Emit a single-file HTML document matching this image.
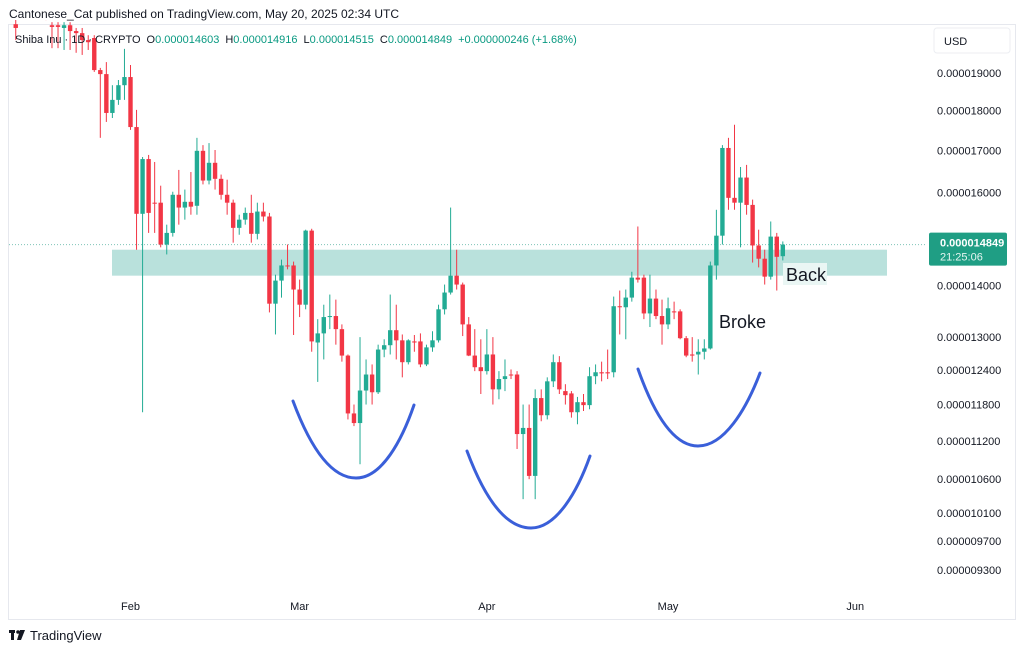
<!DOCTYPE html>
<html><head><meta charset="utf-8">
<style>
html,body{margin:0;padding:0;background:#fff;width:1024px;height:652px;overflow:hidden;font-family:"Liberation Sans",sans-serif;}
svg{display:block}
</style></head>
<body>
<svg id="chart" width="1024" height="652" viewBox="0 0 1024 652" xmlns="http://www.w3.org/2000/svg" font-family="Liberation Sans, sans-serif">
  <text x="9" y="18" font-size="12" fill="#131722">Cantonese_Cat published on TradingView.com, May 20, 2025 02:34 UTC</text>
  <rect x="8.5" y="24.5" width="1007" height="595" fill="none" stroke="#e6e8ee"/>
  <defs><clipPath id="plotclip"><rect x="9" y="20" width="916" height="580"/></clipPath></defs>
  <g id="zone"></g>
  <g id="candles" clip-path="url(#plotclip)"></g>
  <g id="overlay"></g>
  <g id="axis"></g>
  <text x="15" y="43" font-size="11" fill="#131722">Shiba Inu · 1D · CRYPTO<tspan dx="6">O</tspan><tspan fill="#089981">0.000014603</tspan><tspan dx="6">H</tspan><tspan fill="#089981">0.000014916</tspan><tspan dx="6">L</tspan><tspan fill="#089981">0.000014515</tspan><tspan dx="6">C</tspan><tspan fill="#089981">0.000014849</tspan><tspan dx="6" fill="#089981">+0.000000246 (+1.68%)</tspan></text>
  <rect x="934" y="28" width="76" height="25" rx="3" fill="#fff" stroke="#eceef2"/>
  <text x="944" y="45" font-size="11" fill="#131722">USD</text>
  <g>
    <rect x="9" y="630" width="6" height="3" fill="#131722"/><rect x="11" y="630" width="3" height="10" fill="#131722"/>
    <circle cx="18" cy="632" r="1.8" fill="#131722"/><polygon points="20,630 25,630 21,640 17,640" fill="#131722"/>
    <text x="30" y="640" font-size="13" fill="#131722">TradingView</text>
  </g>
</svg>
<script>
// price units: 1e-6 USD
const opens  = [20.38,20.8,20.9,21.0,20.9,20.8,20.35,20.35,20.27,20.35,20.18,20.12,19.92,19.98,19.08,18.97,17.94,18.28,18.67,18.89,17.58,15.52,16.79,15.77,15.77,14.85,15.10,15.95,15.66,15.79,15.70,16.99,16.28,16.70,16.32,15.95,15.77,15.21,15.39,15.54,15.08,15.57,15.46,13.64,14.10,14.41,14.41,13.92,13.62,15.15,12.90,13.07,13.38,13.40,13.15,12.66,11.65,11.49,12.04,12.32,12.01,12.77,12.85,13.13,12.94,12.54,12.92,12.92,12.50,12.81,12.94,13.53,13.86,14.20,14.02,13.24,12.66,12.45,12.38,12.68,12.06,12.24,12.32,12.32,11.31,11.41,10.65,11.91,11.62,12.20,12.54,12.03,11.99,11.67,11.84,11.79,12.29,12.36,12.36,12.36,13.59,13.57,13.76,14.16,14.16,13.45,13.74,13.40,13.24,13.49,13.49,12.98,12.68,12.68,12.73,12.79,14.41,15.04,17.06,15.88,15.77,16.35,15.72,14.83,14.55,14.18,15.02,14.603];
const highs  = [20.56,21.1,21.2,21.3,21.1,21.0,20.44,20.44,20.44,20.44,20.27,20.27,20.06,20.06,19.14,19.30,18.67,18.81,19.67,19.22,18.02,16.84,16.89,16.72,16.16,15.28,16.02,16.53,16.07,16.48,17.31,17.13,17.18,17.01,16.42,16.30,15.84,15.50,15.66,15.95,15.77,15.77,15.54,14.22,14.53,14.85,14.49,14.12,15.17,15.19,13.34,13.62,13.82,13.72,13.24,12.68,11.80,13.00,12.59,12.50,12.86,12.96,13.82,13.62,13.05,12.96,13.04,13.07,12.86,13.11,13.62,14.02,15.66,14.74,14.06,13.38,13.15,12.96,13.15,13.00,12.38,12.59,12.41,12.38,11.80,11.80,12.06,12.06,12.27,12.68,12.65,12.15,12.03,11.93,11.98,12.45,12.50,12.55,12.77,13.78,13.90,13.92,14.28,15.24,14.22,14.22,13.92,13.72,13.76,13.68,13.53,13.02,13.00,12.96,12.96,14.49,15.61,17.13,17.31,17.64,16.60,16.65,15.84,15.17,14.74,15.35,15.10,14.916];
const lows   = [19.92,20.6,20.7,20.8,20.7,20.5,19.69,19.69,19.64,19.64,19.56,19.50,19.64,19.03,17.31,17.71,17.81,18.15,18.28,17.51,14.74,11.67,15.10,15.10,14.79,14.64,15.02,15.28,15.39,15.50,15.50,16.19,16.19,16.07,15.84,15.50,14.89,15.06,15.28,14.89,14.96,15.35,13.47,13.05,13.76,14.33,13.04,13.38,13.53,12.73,12.19,12.59,13.15,12.86,12.55,11.55,11.44,10.83,11.80,11.80,11.98,12.63,12.68,12.59,12.27,12.50,12.73,12.45,12.47,12.73,12.90,13.43,13.82,13.92,13.02,12.65,12.38,11.98,12.32,11.80,11.89,12.03,12.24,11.07,10.30,10.60,10.30,11.52,11.55,12.10,11.98,11.80,11.58,11.47,11.69,11.72,12.15,12.20,12.24,12.27,13.05,12.96,13.68,14.06,13.34,13.19,13.34,12.86,13.15,13.34,12.96,12.63,12.55,12.32,12.59,12.77,14.12,14.85,15.61,15.61,14.79,15.50,14.47,14.37,14.02,14.12,13.90,14.515];
const closes = [20.27,20.9,21.0,20.9,20.8,20.6,20.30,20.30,20.35,20.18,20.12,19.92,19.86,19.08,18.97,17.94,18.28,18.67,18.89,17.58,15.52,16.79,15.54,15.75,14.85,15.10,15.95,15.66,15.79,15.68,16.99,16.28,16.70,16.32,15.95,15.77,15.21,15.39,15.54,15.08,15.57,15.46,13.64,14.10,14.41,14.39,13.92,13.62,15.15,12.92,13.07,13.38,13.40,13.15,12.66,11.65,11.49,12.04,12.32,12.01,12.77,12.85,13.13,12.94,12.54,12.94,12.90,12.50,12.81,12.94,13.53,13.86,14.20,14.02,13.24,12.66,12.45,12.38,12.68,12.06,12.24,12.29,12.31,11.31,11.41,10.65,11.91,11.62,12.20,12.54,12.06,11.96,11.67,11.84,11.79,12.29,12.36,12.34,12.34,13.59,13.57,13.76,14.16,14.12,13.45,13.74,13.40,13.24,13.55,13.47,12.98,12.66,12.66,12.73,12.79,14.41,15.04,17.06,15.88,15.77,16.35,15.72,14.83,14.55,14.18,15.02,14.59,14.849];
const priceTicks = [19.0,18.0,17.0,16.0,15.0,14.0,13.0,12.4,11.8,11.2,10.6,10.1,9.7,9.3];
const monthLabels = ["Feb","Mar","Apr","May","Jun"];
const monthDays = [0,28,59,89,120]; // days since Feb 1
const firstCandleDay = -19;          // Jan 13 relative to Feb 1
const zoneLow = 14.20, zoneHigh = 14.74;
const lastPrice = 14.849;

const NS="http://www.w3.org/2000/svg";
function yOf(p){ return 73 + Math.log(19/p)*696; }
function xOfDay(d){ return 130.5 + d*6.04; }
function xOfIdx(i){ return xOfDay(firstCandleDay + i); }
function mk(tag, attrs, parent){ const e=document.createElementNS(NS,tag); for(const k in attrs) e.setAttribute(k,attrs[k]); parent.appendChild(e); return e; }

const zoneG=document.getElementById('zone');
const zone=mk('rect',{x:112,y:yOf(zoneHigh),width:775,height:yOf(zoneLow)-yOf(zoneHigh),fill:'#b9e1dc'},zoneG);


const pl=mk('line',{x1:9,x2:925,y1:yOf(lastPrice),y2:yOf(lastPrice),stroke:'#7fc4b8','stroke-dasharray':'1 2','stroke-width':1},zoneG);



const cg=document.getElementById('candles');
for(let i=0;i<opens.length;i++){
  const o=opens[i],h=highs[i],l=lows[i],c=closes[i];
  const up=c>=o, col=up?'#22ab94':'#f23645', x=xOfIdx(i);
  const g=mk('g',{},cg);
  
  
  mk('line',{x1:x,x2:x,y1:yOf(h),y2:yOf(l),stroke:col,'stroke-width':1},g);
  const top=yOf(Math.max(o,c)), bot=yOf(Math.min(o,c));
  mk('rect',{x:x-2.2,y:top,width:4.4,height:Math.max(1,bot-top),fill:col},g);
}

const ov=document.getElementById('overlay');
const curves=[["M293,401 C312,452 333,478 356,478 C382,478 402,440 414,405","cup-curve-1"],
              ["M467,451 C486,502 507,528 531,528 C557,528 578,490 590,456","cup-curve-2"],
              ["M638,369 C656,420 676,446 698,446 C724,446 746,410 760,373","cup-curve-3"]];
curves.forEach(cv=>{
  const p=mk('path',{d:cv[0],fill:'none',stroke:'#3a5fd9','stroke-width':3,'stroke-linecap':'round'},ov);
  
  
});
const bk=mk('rect',{x:783,y:263,width:44,height:22,fill:'#eaf6f4'},ov);


const t1=mk('text',{x:786,y:281,'font-size':18,fill:'#131722'},ov); t1.textContent='Back';


const t2=mk('text',{x:719,y:328,'font-size':18,fill:'#131722'},ov); t2.textContent='Broke';



const ax=document.getElementById('axis');
priceTicks.forEach(p=>{
  const t=mk('text',{x:937,y:yOf(p)+4,'font-size':11,fill:'#131722'},ax);
  t.textContent=(p/1e6).toFixed(9);
  
  
});
monthLabels.forEach((m,k)=>{
  const t=mk('text',{x:xOfDay(monthDays[k]),y:610,'font-size':11,fill:'#131722','text-anchor':'middle'},ax);
  t.textContent=m;
  
  
});
const ly=yOf(lastPrice);
const box=mk('rect',{x:929,y:ly-12,width:78,height:33,rx:2,fill:'#1f9e84'},ax);


const bt=mk('text',{x:940,y:ly+2,'font-size':11,fill:'#fff','font-weight':'bold'},ax); bt.textContent=(lastPrice/1e6).toFixed(9);


const bt2=mk('text',{x:940,y:ly+16,'font-size':11,fill:'#e6f5f1'},ax); bt2.textContent='21:25:06';


</script>
</body></html>
